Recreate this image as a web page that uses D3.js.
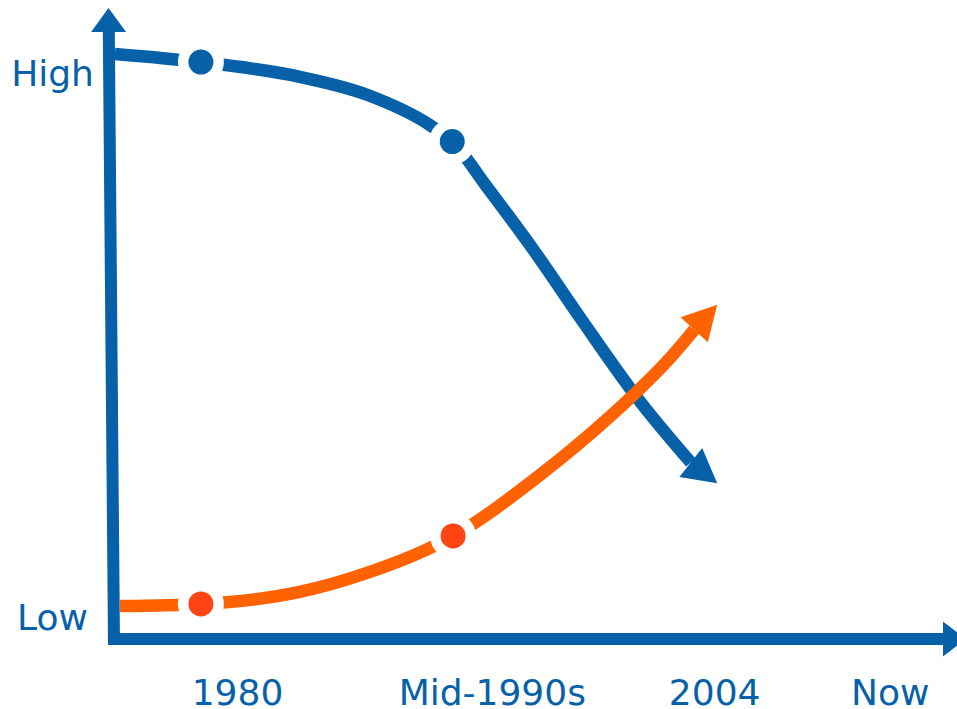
<!DOCTYPE html>
<html><head><meta charset="utf-8">
<script src="https://cdn.jsdelivr.net/npm/d3@7"></script>
<style>html,body{margin:0;padding:0;background:#fff;overflow:hidden}svg{display:block}</style>
</head><body>
<svg id="c" width="957" height="709"></svg>
<script>
// ---- data (abstract units: x = time 0..100, y = level, Low = 0, High = 100) ----
const categories = ["1980", "Mid-1990s", "2004", "Now"];
const categoryPos = [14.5, 44.4, 70.5, 91.1];
const levelLabels = ["Low", "High"];
const levelValues = [0, 100];

// last point of each series is the arrow tip
const blueX = [0.1, 10.2, 21.8, 29.7, 37.1, 39.7, 43.8, 49.5, 54.9, 61.6, 67.7, 70.8];
const blueY = [103.5, 102.0, 99.3, 96.0, 90.4, 87.4, 79.0, 66.9, 54.6, 39.9, 28.4, 24.6];
const blueMarkerIdx = [1, 5];

const orangeX = [0.7, 10.2, 21.8, 29.7, 37.1, 39.8, 50.0, 57.9, 65.6, 68.1, 70.8];
const orangeY = [2.0, 2.4, 4.6, 8.1, 12.7, 14.9, 26.1, 36.4, 48.2, 52.8, 57.4];
const orangeMarkerIdx = [1, 5];

// ---- layout ----
const BLUE = "#0761A9", ORANGE = "#FF6200", ORANGE_DOT = "#FF4513";
const x = d3.scaleLinear().domain([0, 100]).range([114, 966]);
const y = d3.scaleLinear().domain([0, 100]).range([617, 73]);
const axisBottom = 639;

const svg = d3.select("#c");

// triangle with its tip at `tip`, base centred at `base`
function triangle(g, tip, base, halfW, color) {
  const dx = tip[0] - base[0], dy = tip[1] - base[1];
  const d = Math.hypot(dx, dy);
  const ux = dx / d, uy = dy / d;
  const px = -uy * halfW, py = ux * halfW;
  g.append("path")
    .attr("d", `M${tip[0]},${tip[1]}L${base[0] + px},${base[1] + py}L${base[0] - px},${base[1] - py}Z`)
    .attr("fill", color);
}

function series(xs, ys, markers, lineColor, dotColor) {
  const pts = xs.map((v, i) => [x(v), y(ys[i])]);
  const shaft = pts.slice(0, -1);
  const tip = pts[pts.length - 1];
  const g = svg.append("g");
  const line = d3.line().curve(d3.curveMonotoneX);
  g.append("path")
    .attr("d", line(shaft))
    .attr("fill", "none")
    .attr("stroke", lineColor)
    .attr("stroke-width", 12.5);
  triangle(g, tip, shaft[shaft.length - 1], 18.5, lineColor);
  const m = markers.map(i => pts[i]);
  g.selectAll("circle.halo").data(m).join("circle")
    .attr("class", "halo").attr("cx", d => d[0]).attr("cy", d => d[1])
    .attr("r", 23).attr("fill", "#fff");
  g.selectAll("circle.dot").data(m).join("circle")
    .attr("class", "dot").attr("cx", d => d[0]).attr("cy", d => d[1])
    .attr("r", 12.5).attr("fill", dotColor);
}

series(blueX, blueY, blueMarkerIdx, BLUE, BLUE);
series(orangeX, orangeY, orangeMarkerIdx, ORANGE, ORANGE_DOT);

// ---- axes ----
const ax = svg.append("g");
const x0 = x(0);
ax.append("line")
  .attr("x1", x0).attr("y1", axisBottom + 6)
  .attr("x2", x0 - 5.2).attr("y2", 30)
  .attr("stroke", BLUE).attr("stroke-width", 12);
triangle(ax, [x0 - 5.5, 8], [x0 - 5.4, 32], 17.5, BLUE);
ax.append("line")
  .attr("x1", x0 - 6).attr("y1", axisBottom)
  .attr("x2", x(100) - 20).attr("y2", axisBottom)
  .attr("stroke", BLUE).attr("stroke-width", 12);
triangle(ax, [x(100), axisBottom], [x(100) - 23, axisBottom], 17.5, BLUE);

// ---- labels ----
const font = "'DejaVu Sans', Verdana, sans-serif";
svg.append("g").selectAll("text").data(categories).join("text")
  .attr("x", (d, i) => x(categoryPos[i]))
  .attr("y", 705)
  .attr("text-anchor", "middle")
  .attr("font-family", font).attr("font-size", 36)
  .attr("fill", BLUE)
  .text(d => d);

svg.append("g").selectAll("text").data(levelLabels).join("text")
  .attr("x", 52.5)
  .attr("y", (d, i) => y(levelValues[i]) + 13)
  .attr("text-anchor", "middle")
  .attr("font-family", font).attr("font-size", 36)
  .attr("fill", BLUE)
  .text(d => d);
</script>
</body></html>
